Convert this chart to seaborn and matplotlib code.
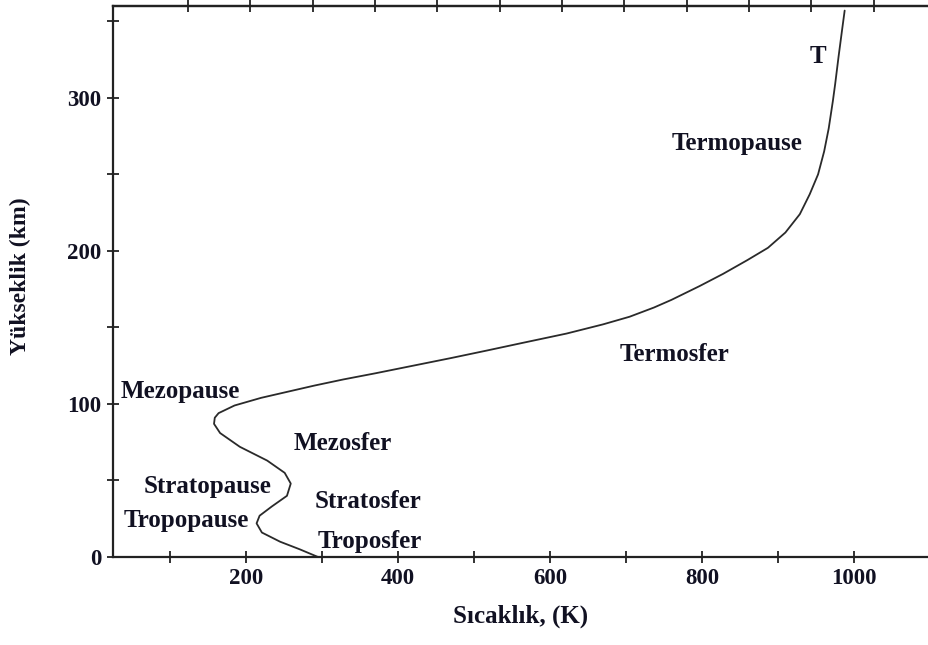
import numpy as np
import matplotlib
matplotlib.use("Agg")
import matplotlib.pyplot as plt
import seaborn as sns

# temperature profile
altitude = [0, 5, 10, 16, 22, 27, 33, 40, 48, 55, 63, 72, 81, 87, 91, 94, 99,
            104, 108, 112, 116, 120, 125, 130, 135, 140, 146, 152, 157, 163, 168,
            177, 185, 194, 202, 212, 224, 237, 250, 265, 280, 298, 309, 327, 344, 357]
temperature = [295, 271, 245, 221, 214, 218, 234, 254, 259, 251, 228, 192, 166, 158, 159, 164, 185,
               220, 255, 290, 328, 370, 420, 470, 518, 565, 622, 670, 705, 737, 760,
               797, 828, 860, 887, 910, 929, 942, 953, 961, 967, 972.5, 975.5, 980, 984.5, 988]

layer_names = ["T", "Termopause", "Termosfer", "Mezopause", "Mezosfer",
               "Stratopause", "Stratosfer", "Tropopause", "Troposfer"]
layer_xy = [(953, 327), (847, 270), (764, 132), (113, 108), (328, 74),
            (150, 46), (361, 36), (121, 24), (363, 10)]

x_tick_vals = [100, 200, 300, 400, 500, 600, 700, 800, 900, 1000]
x_tick_text = ["", "200", "", "400", "", "600", "", "800", "", "1000"]
y_tick_vals = [0, 50, 100, 150, 200, 250, 300, 350]
y_tick_text = ["0", "", "100", "", "200", "", "300", ""]

sns.set_style("ticks")
plt.rcParams["font.family"] = ["Liberation Serif", "DejaVu Serif"]
plt.rcParams["font.weight"] = "bold"

ink = "#111122"
fig = plt.figure(figsize=(9.29, 6.45), dpi=100)
ax = fig.add_axes([0.1216, 0.1364, 0.8784, 0.8543])

sns.lineplot(x=temperature, y=altitude, sort=False, estimator=None,
             color="#2a2a2a", linewidth=1.3, ax=ax)

ax.set_xlim(25, 1099)
ax.set_ylim(0, 360)

ax.set_xticks(x_tick_vals)
ax.set_xticklabels(x_tick_text)
ax.set_yticks(y_tick_vals)
ax.set_yticklabels(y_tick_text)
ax.tick_params(direction="inout", length=8.5, width=1.3, colors="#222222",
               labelsize=16.5, labelcolor=ink, pad=4)
for lab in ax.get_xticklabels() + ax.get_yticklabels():
    lab.set_fontweight("bold")

for side in ["left", "bottom", "top"]:
    ax.spines[side].set_linewidth(1.6)
    ax.spines[side].set_color("#222222")
ax.spines["right"].set_visible(False)

top = ax.secondary_xaxis("top")
top.set_xticks(np.arange(124, 1100, 82))
top.set_xticklabels([])
top.tick_params(direction="inout", length=8.5, width=1.3, colors="#222222")
top.spines["top"].set_linewidth(1.6)

ax.set_xlabel("Sıcaklık, (K)", fontsize=18, fontweight="bold", color=ink)
ax.set_ylabel("Yükseklik (km)", fontsize=17, fontweight="bold", color=ink)
ax.xaxis.set_label_coords(0.499, -0.087)
ax.yaxis.set_label_coords(-0.101, 0.51)

for name, (tx, ty) in zip(layer_names, layer_xy):
    ax.text(tx, ty, name, ha="center", va="center", fontsize=18,
            fontweight="bold", color=ink)

fig.savefig("out.png", dpi=100, facecolor="white")
